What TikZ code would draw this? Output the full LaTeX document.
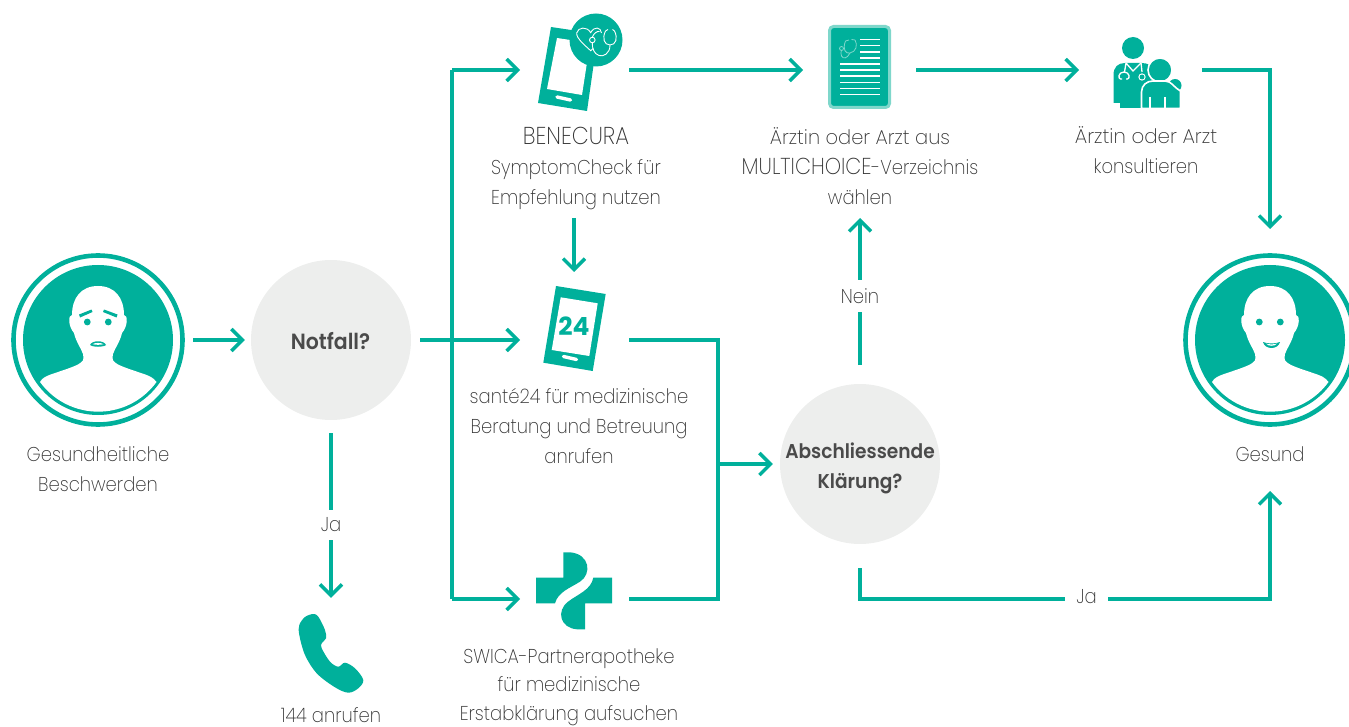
\documentclass[tikz,border=0pt]{standalone}
\usepackage{graphicx}
\usepackage{fontspec}
\setmainfont{Poppins}[UprightFont=*-ExtraLight,BoldFont=*-SemiBold,FakeStretch=0.9]
\newfontfamily\numfont{Poppins}[UprightFont=*-Bold]
\newfontfamily\decfont{Poppins}[UprightFont=*-SemiBold,FakeStretch=0.93]
\usetikzlibrary{arrows.meta}
\definecolor{swica}{HTML}{00B09B}
\definecolor{swicalight}{HTML}{7FD7CB}
\definecolor{discbg}{HTML}{EDEEED}
\definecolor{txt}{HTML}{333333}
\definecolor{txtbold}{HTML}{4A4A4A}
\tikzset{
  x=1pt,y=-1pt,
  conn/.style={draw=swica,line width=3.4pt,miter limit=10},
  arr/.style={conn,-{Straight Barb[length=11pt,width=22pt,line width=3.4pt]}},
  lab/.style={font=\fontsize{20}{30}\selectfont,text=txt,align=center,inner sep=0pt},
  edgelab/.style={lab,fill=white},
  disc/.style={circle,fill=discbg,minimum size=160pt,inner sep=0pt},
  disclab/.style={font=\fontsize{20}{30}\selectfont\decfont,text=txtbold,align=center,inner sep=0pt},
  iconbox/.style={minimum height=#1,minimum width=109pt,inner sep=0pt,outer sep=0pt},
  personbody/.pic={
    \fill[swica] (0,0) circle (75);
    \draw[swica,line width=4.6pt] (0,0) circle (84.5);
    \fill[white] (0,-54) .. controls (-17,-54) and (-26,-42) .. (-26,-25)
      .. controls (-30,-25) and (-30,-14) .. (-24,-7)
      .. controls (-22,2) and (-17,8) .. (-15,14)
      .. controls (-14,20) and (-14,21) .. (-21,25)
      .. controls (-32,30) and (-48,34) .. (-53,37)
      .. controls (-55,38) and (-57,40) .. (-58,42)
      arc[start angle=144,end angle=36,radius=72]
      .. controls (57,40) and (55,38) .. (53,37)
      .. controls (48,34) and (32,30) .. (21,25)
      .. controls (14,21) and (14,20) .. (15,14)
      .. controls (17,8) and (22,2) .. (24,-7)
      .. controls (30,-14) and (30,-25) .. (26,-25)
      .. controls (26,-42) and (17,-54) .. (0,-54) -- cycle;
    \fill[swica] (-10.7,-18) circle (3.4) (10.3,-18) circle (3.4);
  }
}
\begin{document}
\begin{tikzpicture}
\useasboundingbox (0,0) rectangle (1349,727);

% persons
\pic at (98,340) {personbody};
\fill[swica] (79,314.5) -- (91.5,309.5) -- (92.5,312) -- (80,317.5) -- cycle;
\fill[swica] (104,309.5) -- (117.5,314.5) -- (116.5,317.5) -- (103,312) -- cycle;
\fill[swica] (90,345) .. controls (92,340) and (104,340) .. (106,345) -- (104,346) .. controls (100,347) and (96,347) .. (92,346) -- cycle;
\fill[white] (92.5,344.2) .. controls (95,342.5) and (101,342.5) .. (103.5,344.2) .. controls (100,345) and (96,345) .. (92.5,344.2) -- cycle;

\pic at (1270,340) {personbody};
\fill[swica] (1263,342) .. controls (1268,344) and (1275,344) .. (1280,342) .. controls (1278,350) and (1265,350) .. (1263,342) -- cycle;
\fill[white] (1266,343.6) .. controls (1269,344.6) and (1274,344.6) .. (1277,343.6) .. controls (1275,346.5) and (1268,346.5) .. (1266,343.6) -- cycle;

% phone with stethoscope
\fill[swica] (551,27) -- (598,34) -- (587,111) -- (538,103) -- cycle;
\fill[white] (557,38) -- (590,43) -- (582,95) -- (547,89) -- cycle;
\draw[white,line width=3.4pt,line cap=round] (557,97) -- (570.5,100);
\fill[swica] (596,40) circle (26.5);
\begin{scope}[white,line width=0.9pt]
  \draw (601.5,33) .. controls (601,27) and (594,26) .. (590.7,32.7)
     .. controls (587,26) and (578,27) .. (576.7,33)
     .. controls (576,38) and (585,45.5) .. (590.7,50.7) -- (593,48.5);
  \draw (592.3,40) circle (2.8);
  \draw (592.3,37.2) .. controls (594,33) and (597,31) .. (599.5,31.5);
  \draw (605.5,31) .. controls (602,38) and (604,45) .. (610,45)
     .. controls (616,45) and (618,38) .. (614.5,31);
  \draw (605.5,31) -- (608,29.5) (614.5,31) -- (612.5,29.5);
  \draw (610,45) .. controls (610,54) and (603,57) .. (599,55.5) .. controls (594,54) and (592,48) .. (592.3,42.8);
\end{scope}

% document
\fill[swica,draw=swicalight,line width=3pt,rounded corners=4pt] (829.5,26.5) rectangle (889.5,107.5);
\foreach \yy in {39.5,45.7,52,58.2} \draw[white,line width=1.4pt] (860,\yy) -- (880,\yy);
\foreach \yy in {64,70,76,82.5,88.5,94.5} \draw[white,line width=1.4pt] (840,\yy) -- (880,\yy);
\begin{scope}[swicalight,line width=0.8pt]
  \draw (845.5,41) .. controls (842,50) and (846,54) .. (850,53) .. controls (856,52) and (858,45) .. (855,40);
  \draw (845.5,41) -- (849,40) (855,40) -- (851.5,39.5);
  \draw (850,53) .. controls (847,59) and (843,59) .. (841.5,56) .. controls (840.5,54) and (841,52) .. (841.5,50);
  \draw (841.5,48.5) circle (2);
\end{scope}

% doctor and patient
\fill[swica] (1133,48) circle (11);
\fill[swica] (1120,108) -- (1120,103) -- (1113.5,103) -- (1113.5,75)
  .. controls (1113.5,67) and (1118,63) .. (1125,63) -- (1142,63)
  .. controls (1148,63) and (1152,66) .. (1155,70) -- (1155,108) -- cycle;
\draw[white,line width=1.3pt] (1126,63) -- (1133,71) -- (1141,63) (1126,63) -- (1124.5,72);
\draw[white,line width=1.3pt] (1122,79) -- (1120.5,79) .. controls (1118,79) and (1118,72) .. (1124,72) .. controls (1130,72) and (1130,79) .. (1127.5,79) -- (1126,79);
\draw[white,line width=1.3pt] (1141,63) -- (1142,72);
\draw[white,line width=1.2pt] (1142,77) circle (3);
\fill[swica] (1142,77) circle (2.4);
\fill[swica,draw=white,line width=1.6pt] (1160,70) circle (12);
\fill[swica] (1175,85.5) circle (6.5);
\fill[swica,draw=white,line width=1.6pt] (1141.5,108.5) -- (1141.5,92) .. controls (1141.5,85) and (1147,81) .. (1153,81)
  -- (1165,81) .. controls (1172,81) and (1174,88) .. (1180.5,91) -- (1180.5,108.5) -- cycle;
\draw[white,line width=1.3pt] (1150,97) -- (1150,108) (1165,97) -- (1165,108);
\fill[white] (1139,108.3) rectangle (1182,112);

% 24 phone
\fill[swica] (556,286) -- (605.7,294) -- (592.7,371) -- (543.3,362.7) -- cycle;
\fill[white] (560.7,297.3) -- (597.7,303.3) -- (589.3,356) -- (551.7,350) -- cycle;
\draw[white,line width=3.4pt,line cap=round] (563.5,356.5) -- (576.5,359.5);
\node[inner sep=0pt] (n24) at (574,326) {\fontsize{25}{25}\selectfont\numfont\textcolor{swica}{24}};

% pharmacy cross
\fill[swica] (536,577.7) -- (563.3,577.7) -- (563.3,552.3) -- (570,552.3)
  .. controls (590,554) and (592,574) .. (580,581.7)
  .. controls (570,588) and (558,592) .. (555,603.3) -- (536,603.3) -- cycle;
\fill[swica] (612,577.7) -- (593.3,577.7)
  .. controls (591,590) and (578,594) .. (568,601.7)
  .. controls (556,611) and (560,628) .. (577,629.3) -- (585,629.3) -- (585,603.3) -- (612,603.3) -- cycle;

% handset
\fill[swica] plot[smooth cycle,tension=.55] coordinates {
 (299.3,625) (305,617) (313.3,614) (318.3,616.7) (325,630) (326,638.3) (321.7,643.3) (321.7,648.3)
 (330,661.7) (338.3,666.7) (345,662.7) (355,668.3) (363.3,680) (358.3,688.3) (348.3,692.7) (335,687.3) (316.7,673.3) (305,655) (299.3,635)};

% icon boxes
\node[iconbox=90pt] (bene) at (574.5,70) {};
\node[iconbox=90pt,minimum width=113pt] (docicon) at (859.5,70) {};
\node[iconbox=90pt,minimum width=123pt] (doctor) at (1140.5,70) {};
\node[iconbox=136pt] (sante) at (574.5,340) {};
\node[iconbox=90pt] (apo) at (574.5,599) {};
\node[circle,minimum size=190pt,inner sep=0pt] (unwell) at (98,340) {};
\node[circle,minimum size=20pt,inner sep=0pt] (handset) at (331,608) {};

% decisions
\node[disc] (notfall) at (331,340) {};
\node[disc] (klaerung) at (860,464) {};
\node[disclab,font=\fontsize{22}{30}\selectfont\decfont] (tnotfall) at (330.5,341) {Notfall?};
\node[disclab] (tklaerung) at (860,468.5) {Abschliessende\\Klärung?};

% labels
\node[lab] (tunwell) at (98,469) {Gesundheitliche\\Beschwerden};
\node[lab] (tbene) at (576,169) {\scalebox{1.22}{BENECURA}\\SymptomCheck für\\Empfehlung nutzen};
\node[lab] (tdoc) at (860,166) {\scalebox{1.08}[1]{Ärztin oder Arzt aus}\\\scalebox{1.15}{MULTICHOICE}-Verzeichnis\\wählen};
\node[lab] (tdoctor) at (1146,150.5) {\scalebox{1.1}[1]{Ärztin oder Arzt}\\konsultieren};
\node[lab] (tsante) at (579,426) {santé24 für medizinische\\Beratung und Betreuung\\anrufen};
\node[lab,font=\fontsize{20}{28.5}\selectfont] (tapo) at (569,687) {SWICA-Partnerapotheke\\für medizinische\\Erstabklärung aufsuchen};
\node[lab] (tcall) at (331,715) {144 anrufen};
\node[lab] (twell) at (1270,454) {Gesund};
\node[edgelab,minimum height=30pt] (janot) at (331,525) {Ja};
\node[edgelab,minimum height=32pt,minimum width=44pt] (nein) at (860,296) {Nein};
\node[edgelab,minimum width=43pt] (jaok) at (1086.5,597) {Ja};

% junctions
\coordinate (branch) at (452,340);
\coordinate (merge) at (718,464);
\coordinate (topbranch) at (452,70);
\coordinate (lowbranch) at (452,599);
\coordinate (santeturn) at (718,340);
\coordinate (apoturn) at (718,599);
\coordinate (docturn) at (1270,70);
\coordinate (wellcorner) at (1270,599);
\coordinate (klturn) at (860,599);
\coordinate (klout) at (860,568);
\coordinate (welltop) at (1270,229);
\coordinate (wellbot) at (1270,491);
\coordinate (kltop) at (860,218);
\coordinate (klbot) at (860,365);
\coordinate (benedown) at (574,218);
\coordinate (santetop) at (574,272);

% connectors
\draw[arr,shorten >=6pt] (unwell) -- (notfall);
\draw[arr,shorten <=9pt] (notfall.east) -- (sante.west);
\draw[conn] (lowbranch) -- (topbranch);
\draw[arr] (topbranch) -- (bene.west);
\draw[arr] (lowbranch) -- (apo.west);
\draw[conn,shorten <=13pt] (notfall.south) -- (janot);
\draw[arr] (janot) -- (handset);
\draw[arr] (bene.east) -- (docicon.west);
\draw[arr] (docicon.east) -- (doctor.west);
\draw[arr] (doctor.east) -- (docturn) -- (welltop);
\draw[arr] (benedown) -- (santetop);
\draw[conn] (sante.east) -- (santeturn) -- (apoturn) -- (apo.east);
\draw[arr,shorten >=7pt] (merge) -- (klaerung);
\draw[conn] (klbot) -- (nein);
\draw[arr] (nein) -- (kltop);
\draw[conn] (klout) -- (klturn) -- (klturn -| jaok.west);
\draw[arr] (wellcorner -| jaok.east) -- (wellcorner) -- (wellbot);
\end{tikzpicture}
\end{document}
